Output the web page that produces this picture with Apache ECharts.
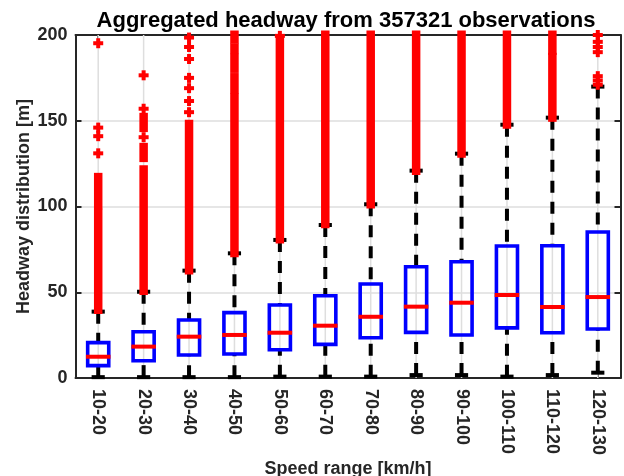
<!DOCTYPE html>
<html>
<head>
<meta charset="utf-8">
<script src="https://cdn.jsdelivr.net/npm/echarts@6/dist/echarts.min.js"></script>
<style>
html,body{margin:0;padding:0;background:#fff;}
#chart{width:624px;height:476px;}
</style>
</head>
<body>
<div id="chart"></div>
<script>
const titleText = 'Aggregated headway from 357321 observations';
const xAxisName = 'Speed range [km/h]';
const yAxisName = 'Headway distribution [m]';
const categories = ['10-20','20-30','30-40','40-50','50-60','60-70','70-80','80-90','90-100','100-110','110-120','120-130'];
const yTicks = [0, 50, 100, 150, 200];
const lowerWhisker = [0.5, 0.5, 0.5, 0.5, 0.8, 0.8, 0.8, 1.7, 1.7, 0.8, 1.7, 3.1];
const q1 = [7.2, 10.1, 13.4, 14.0, 16.5, 19.6, 23.5, 26.6, 25.1, 29.2, 26.4, 28.6];
const medians = [12.4, 18.3, 24.1, 25.1, 26.4, 30.5, 35.7, 41.6, 43.9, 48.4, 41.4, 47.2];
const q3 = [20.6, 27.0, 33.8, 38.1, 42.6, 48.0, 54.8, 64.9, 67.8, 77.0, 77.1, 85.1];
const upperWhisker = [38.7, 50.3, 62.6, 72.7, 80.5, 89.2, 101.3, 120.9, 130.8, 147.7, 151.8, 169.9];
// dense runs of outliers: [category index, from, to]
const outlierBands = [
  [0, 40, 96], [0, 101, 117],
  [1, 51, 121.5], [1, 128.5, 134.5], [1, 146, 152],
  [2, 63, 148],
  [3, 73, 163.5], [3, 168.5, 175.2], [3, 180.5, 186.5], [3, 191.5, 192.5], [3, 197.5, 200],
  [4, 81, 197],
  [5, 90, 200],
  [6, 101.5, 200],
  [7, 121, 200],
  [8, 131, 200],
  [9, 148, 200],
  [10, 152, 187], [10, 191, 200]
];
// isolated outliers: [category index, value]
const outliers = [
  [0, 131], [0, 141], [0, 146], [0, 195.2],
  [1, 140.4], [1, 157], [1, 176.5],
  [2, 155], [2, 161.5], [2, 169], [2, 175], [2, 186], [2, 193], [2, 198.5],
  [4, 199.5],
  [11, 171], [11, 173.5], [11, 176], [11, 190], [11, 193], [11, 196], [11, 200]
];

const yMin = yTicks[0], yMax = yTicks[yTicks.length - 1];
const FONT = "'Liberation Sans', Arial, Helvetica, sans-serif";
const AX = '#262626';

const boxData = categories.map((c, i) => [i, lowerWhisker[i], q1[i], medians[i], q3[i], upperWhisker[i]]);
const gridData = categories.map((c, i) => [i, yMin, yMax]);

const chart = echarts.init(document.getElementById('chart'), null, {renderer: 'canvas'});
chart.setOption({
  animation: false,
  backgroundColor: '#fff',
  title: {
    text: titleText, left: 341, top: 5, textAlign: 'center',
    textStyle: {fontFamily: FONT, fontWeight: 'bold', fontSize: 22, color: '#000'}
  },
  grid: {left: 75.5, right: 3.5, top: 35, bottom: 98, containLabel: false, outerBoundsMode: 'none'},
  xAxis: [{
    type: 'category', data: categories, position: 'bottom', boundaryGap: true,
    name: xAxisName, nameLocation: 'middle', nameGap: 82, nameMoveOverlap: false,
    nameTextStyle: {fontFamily: FONT, fontWeight: 'bold', fontSize: 18, color: AX},
    axisLine: {show: true, onZero: false, lineStyle: {color: AX, width: 2}},
    axisTick: {show: true, inside: true, alignWithLabel: true, length: 6, lineStyle: {color: AX, width: 2}},
    axisLabel: {rotate: -90, margin: 11, interval: 0, fontFamily: FONT, fontWeight: 'bold', fontSize: 18, color: AX},
    splitLine: {show: false}
  }, {
    type: 'category', data: categories, position: 'top', boundaryGap: true,
    axisLine: {show: true, onZero: false, lineStyle: {color: AX, width: 2}},
    axisTick: {show: true, inside: true, alignWithLabel: true, length: 6, lineStyle: {color: AX, width: 2}},
    axisLabel: {show: false}, splitLine: {show: false}
  }],
  yAxis: [{
    type: 'value', min: yMin, max: yMax, interval: 50, position: 'left',
    name: yAxisName, nameLocation: 'middle', nameGap: 42, nameMoveOverlap: false,
    nameTextStyle: {fontFamily: FONT, fontWeight: 'bold', fontSize: 18, color: AX},
    axisLine: {show: true, onZero: false, lineStyle: {color: AX, width: 2}},
    axisTick: {show: true, inside: true, length: 6, lineStyle: {color: AX, width: 2}},
    axisLabel: {margin: 8, fontFamily: FONT, fontWeight: 'bold', fontSize: 18, color: AX},
    splitLine: {show: true, lineStyle: {color: '#dedede', width: 1.5}}
  }, {
    type: 'value', min: yMin, max: yMax, interval: 50, position: 'right',
    axisLine: {show: true, onZero: false, lineStyle: {color: AX, width: 2}},
    axisTick: {show: true, inside: true, length: 6, lineStyle: {color: AX, width: 2}},
    axisLabel: {show: false}, splitLine: {show: false}
  }],
  series: [{
    type: 'custom', name: 'xgrid', silent: true, z: 1,
    xAxisIndex: 0, yAxisIndex: 0,
    data: gridData, encode: {x: 0, y: [1, 2]},
    renderItem: function (params, api) {
      const a = api.coord([api.value(0), api.value(1)]);
      const b = api.coord([api.value(0), api.value(2)]);
      return {type: 'line', shape: {x1: a[0], y1: a[1], x2: b[0], y2: b[1]},
        style: {stroke: '#dedede', lineWidth: 1.5}};
    }
  }, {
    type: 'custom', name: 'boxes', silent: true, z: 3,
    xAxisIndex: 0, yAxisIndex: 0,
    data: boxData, encode: {x: 0, y: [1, 2, 3, 4, 5]},
    renderItem: function (params, api) {
      const i = api.value(0);
      const pLW = api.coord([i, api.value(1)]);
      const pQ1 = api.coord([i, api.value(2)]);
      const pMed = api.coord([i, api.value(3)]);
      const pQ3 = api.coord([i, api.value(4)]);
      const pUW = api.coord([i, api.value(5)]);
      const bw = api.size([1, 0])[0];
      const x = pQ1[0];
      const hb = bw * 0.232, hm = bw * 0.27, hc = bw * 0.145;
      const wStyle = {stroke: '#000', lineWidth: 4, lineDash: [12, 9], lineCap: 'butt'};
      const cStyle = {stroke: '#000', lineWidth: 4, lineCap: 'butt'};
      return {type: 'group', children: [
        {type: 'line', shape: {x1: x, y1: pUW[1], x2: x, y2: pQ3[1]}, style: wStyle},
        {type: 'line', shape: {x1: x, y1: pLW[1], x2: x, y2: pQ1[1]}, style: wStyle},
        {type: 'line', shape: {x1: x - hc, y1: pUW[1], x2: x + hc, y2: pUW[1]}, style: cStyle},
        {type: 'line', shape: {x1: x - hc, y1: pLW[1], x2: x + hc, y2: pLW[1]}, style: cStyle},
        {type: 'rect', shape: {x: x - hb, y: pQ3[1], width: 2 * hb, height: pQ1[1] - pQ3[1]},
          style: {fill: 'none', stroke: '#0000ff', lineWidth: 3.6}},
        {type: 'line', shape: {x1: x - hm, y1: pMed[1], x2: x + hm, y2: pMed[1]},
          style: {stroke: '#ff0000', lineWidth: 4, lineCap: 'butt'}}
      ]};
    }
  }, {
    type: 'custom', name: 'outlierBands', silent: true, z: 4,
    xAxisIndex: 0, yAxisIndex: 0,
    data: outlierBands, encode: {x: 0, y: [1, 2]},
    renderItem: function (params, api) {
      const a = api.coord([api.value(0), api.value(1)]);
      const b = api.coord([api.value(0), api.value(2)]);
      const w = 8.5, ext = 4.5;
      return {type: 'rect', shape: {x: a[0] - w / 2, y: b[1] - ext, width: w, height: a[1] - b[1] + 2 * ext},
        style: {fill: '#ff0000'}};
    }
  }, {
    type: 'custom', name: 'outliers', silent: true, z: 4,
    xAxisIndex: 0, yAxisIndex: 0,
    data: outliers, encode: {x: 0, y: 1},
    renderItem: function (params, api) {
      const p = api.coord([api.value(0), api.value(1)]);
      const s = 10, t = 4;
      return {type: 'group', children: [
        {type: 'rect', shape: {x: p[0] - s / 2, y: p[1] - t / 2, width: s, height: t}, style: {fill: '#ff0000'}},
        {type: 'rect', shape: {x: p[0] - t / 2, y: p[1] - s / 2, width: t, height: s}, style: {fill: '#ff0000'}}
      ]};
    }
  }]
});
</script>
</body>
</html>
